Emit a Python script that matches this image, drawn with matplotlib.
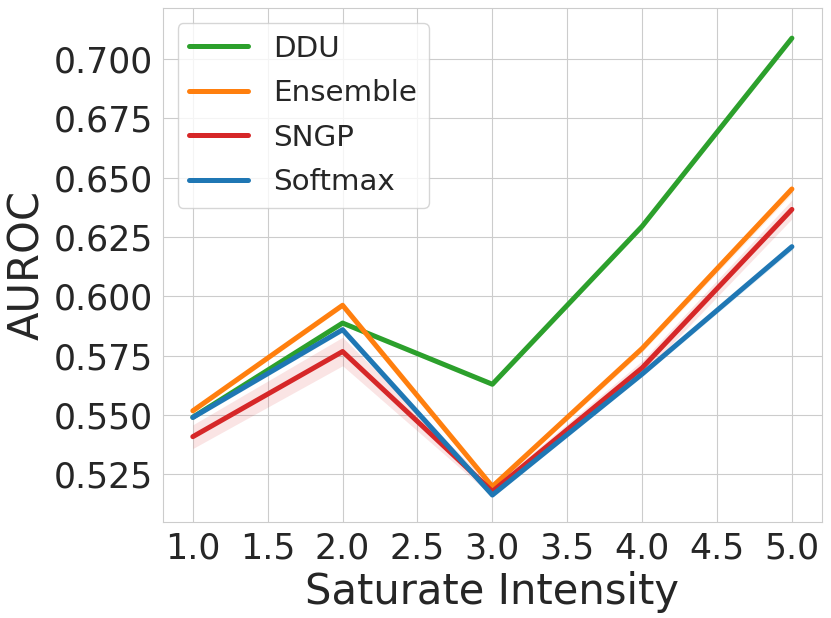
import numpy as np
import matplotlib
matplotlib.use("Agg")
import matplotlib.pyplot as plt
import seaborn as sns

# datos
intensity = [1.0, 2.0, 3.0, 4.0, 5.0]
ddu = [0.549, 0.5887, 0.5629, 0.6295, 0.7088]
ensemble = [0.5517, 0.5962, 0.5198, 0.578, 0.6452]
sngp = [0.5408, 0.5767, 0.5177, 0.5698, 0.6366]
softmax = [0.5489, 0.5859, 0.5162, 0.5672, 0.6209]

# anchura de la banda sombreada
ddu_err = [0.001, 0.001, 0.001, 0.001, 0.001]
ensemble_err = [0.001, 0.001, 0.001, 0.0015, 0.002]
sngp_err = [0.005, 0.006, 0.002, 0.003, 0.004]
softmax_err = [0.001, 0.001, 0.001, 0.001, 0.0015]

series = [
    ("DDU", ddu, ddu_err, "#2ca02c"),
    ("Ensemble", ensemble, ensemble_err, "#ff7f0e"),
    ("SNGP", sngp, sngp_err, "#d62728"),
    ("Softmax", softmax, softmax_err, "#1f77b4"),
]

sns.set_style("whitegrid")
plt.rcParams['font.family'] = ['DejaVu Sans']

fig, ax = plt.subplots(figsize=(8.31, 6.18), dpi=100)

x = np.array(intensity)
for name, vals, err, col in series:
    vals = np.array(vals)
    err = np.array(err)
    ax.fill_between(x, vals - err, vals + err, color=col, alpha=0.12, linewidth=0)
    ax.plot(x, vals, color=col, linewidth=3.6, label=name)

ax.set_xlim(0.8, 5.2)
ax.set_ylim(0.505, 0.7215)
ax.set_xticks([1.0, 1.5, 2.0, 2.5, 3.0, 3.5, 4.0, 4.5, 5.0])
ax.set_yticks([0.525, 0.55, 0.575, 0.6, 0.625, 0.65, 0.675, 0.7])
ax.yaxis.set_major_formatter(matplotlib.ticker.FormatStrFormatter('%.3f'))
ax.tick_params(labelsize=25, colors='#262626')
ax.set_xlabel("Saturate Intensity", fontsize=30, color='#262626')
ax.set_ylabel("AUROC", fontsize=30, color='#262626')

ax.legend(loc='upper left', fontsize=21.2, handlelength=2.0, handletextpad=0.85,
          labelspacing=0.56)

plt.subplots_adjust(left=0.196, right=0.989, top=0.987, bottom=0.156)
plt.savefig("out.png", dpi=100)
